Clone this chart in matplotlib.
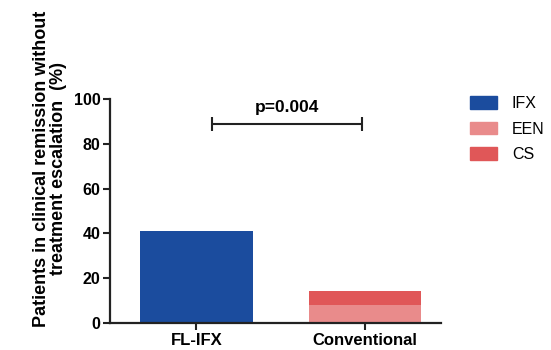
import numpy as np
import matplotlib
matplotlib.use("Agg")
import matplotlib.pyplot as plt
from matplotlib.patches import Patch

plt.rcParams["font.family"] = ["Liberation Sans", "DejaVu Sans"]

# ── data ─────────────────────────────────────────────────────────────────────
groups = ["FL-IFX", "Conventional"]
ifx = [41, 0]
een = [0, 8]
cs = [0, 6.3]
p_text = "p=0.004"
bracket_y = 89

colors = {"IFX": "#1b4c9e", "EEN": "#e98b8b", "CS": "#e05758"}

# ── plot ─────────────────────────────────────────────────────────────────────
fig = plt.figure(figsize=(5.51, 3.5), dpi=100)
ax = fig.add_axes([0.2, 0.077, 0.6, 0.64])

x = np.arange(len(groups))
w = 0.667
ax.bar(x, ifx, w, color=colors["IFX"])
ax.bar(x, een, w, color=colors["EEN"])
ax.bar(x, cs, w, bottom=een, color=colors["CS"])

ax.set_xlim(-0.512, 1.452)
ax.set_ylim(0, 100)
ax.set_yticks([0, 20, 40, 60, 80, 100])
ax.set_xticks(x)
ax.set_xticklabels(groups, fontweight="bold", fontsize=12)
for lbl in ax.get_yticklabels():
    lbl.set_fontweight("bold")
    lbl.set_fontsize(11.5)
ax.tick_params(width=1.5, length=5, color="#222222", pad=2)
for s in ["top", "right"]:
    ax.spines[s].set_visible(False)
for s in ["left", "bottom"]:
    ax.spines[s].set_linewidth(1.6)
    ax.spines[s].set_color("#222222")

ax.set_ylabel("Patients in clinical remission without\ntreatment escalation  (%)",
              fontweight="bold", fontsize=13, linespacing=1.05)
ax.yaxis.set_label_coords(-0.13, 0.69)

# significance bracket
x0, x1 = 0.095, 0.982
ax.errorbar([(x0 + x1) / 2], [bracket_y], xerr=[[(x1 - x0) / 2]], color="#222222",
            capsize=5, capthick=1.5, elinewidth=1.5, fmt="none")
ax.text((x0 + x1) / 2, 93, p_text, ha="center", va="bottom",
        fontweight="bold", fontsize=12.5)

handles = [Patch(color=colors[k]) for k in ["IFX", "EEN", "CS"]]
fig.legend(handles, ["IFX", "EEN", "CS"], loc="upper left",
           bbox_to_anchor=(0.8275, 0.766), frameon=False, fontsize=11.5,
           handlelength=1.7, handleheight=0.85, labelspacing=0.65,
           handletextpad=0.9, borderpad=0.4)

fig.savefig("out.png", dpi=100)
